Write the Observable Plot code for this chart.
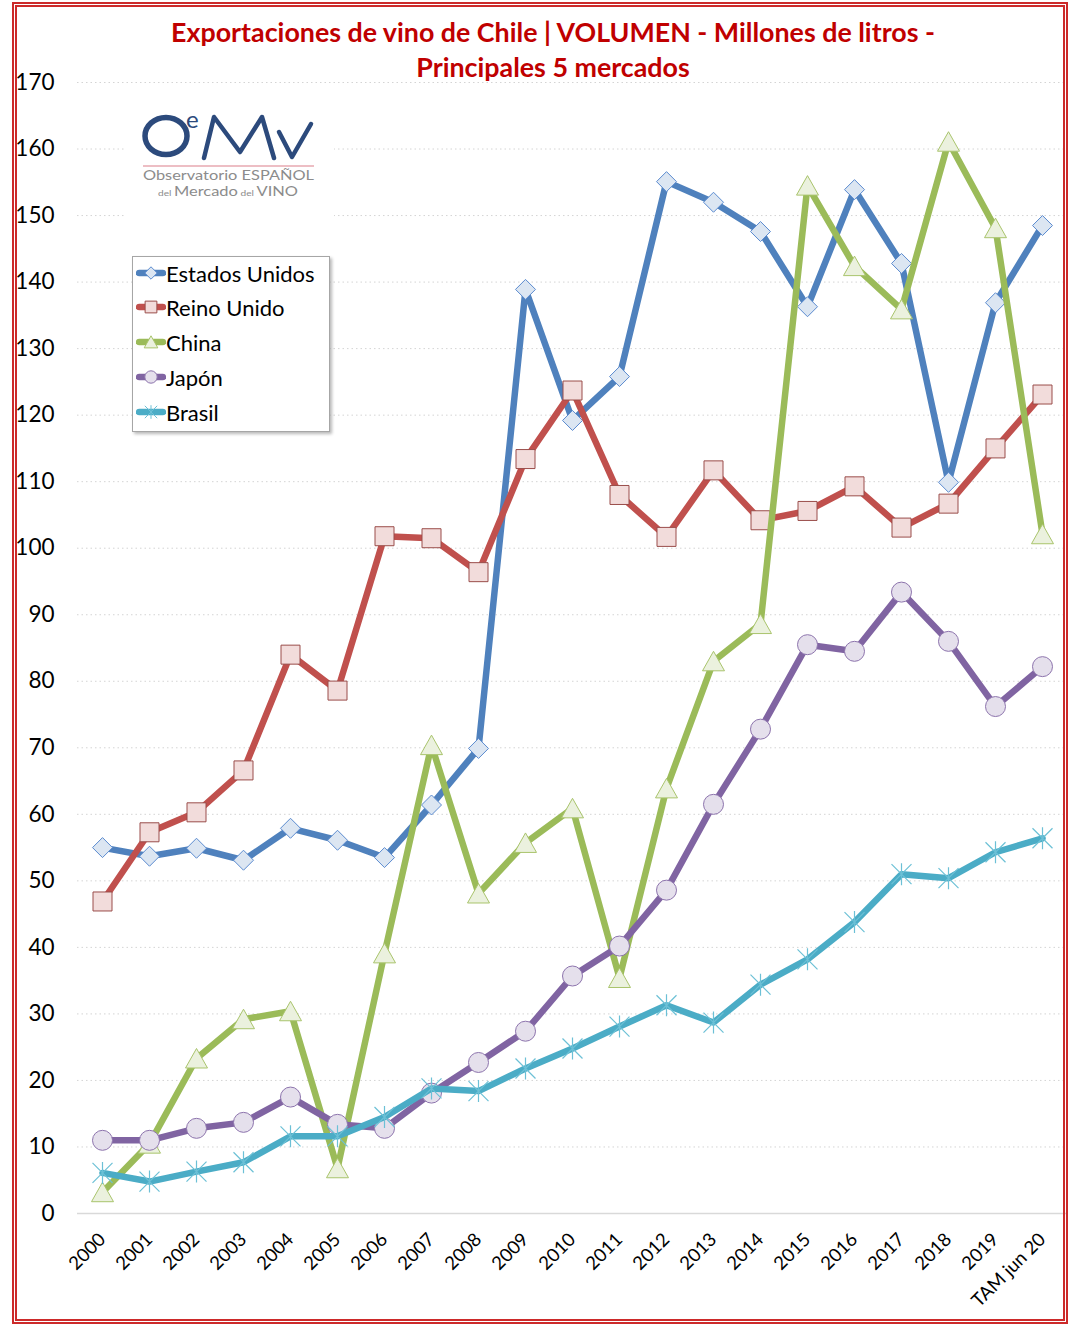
<!DOCTYPE html>
<html>
<head>
<meta charset="utf-8">
<script src="https://cdn.jsdelivr.net/npm/d3@7"></script>
<script src="https://cdn.jsdelivr.net/npm/@observablehq/plot@0.6"></script>
<style>
  html, body { margin: 0; padding: 0; background: #fff; }
  #wrap { position: relative; width: 1075px; height: 1324px; overflow: hidden; font-family: Lato, "Open Sans", sans-serif; background: #fff; }
  #chart { position: absolute; left: 0; top: 0; }
  #title { position: absolute; left: 0; top: 15px; width: 1106px; text-align: center; color: #c00000; font-weight: bold; font-size: 26.8px; line-height: 35px; }
  #frame { position: absolute; left: 12px; top: 2px; width: 1056px; height: 1322px; box-sizing: border-box; border: 5px double #cc2a2a; pointer-events: none; }
  #legend { position: absolute; left: 132px; top: 256px; width: 198px; height: 176px; box-sizing: border-box; background: #fff; border: 1px solid #a6a6a6; box-shadow: 2px 2px 3px rgba(0,0,0,0.28); }
  .lrow { position: absolute; left: 0; height: 30px; display: flex; align-items: center; font-size: 22px; color: #000; white-space: nowrap; }
  .lrow svg { margin-left: 3px; margin-right: 0px; }
  #logo { position: absolute; left: 0; top: 0; }
</style>
</head>
<body>
<div id="wrap">
  <div id="chart"></div>
  <svg id="logo" width="1075" height="240"></svg>
  <div id="legend"></div>
  <div id="title">Exportaciones de vino de Chile | VOLUMEN - Millones de litros -<br>Principales 5 mercados</div>
  <div id="frame"></div>
</div>
<script>
// ---- Data ----
const years = ["2000","2001","2002","2003","2004","2005","2006","2007","2008","2009","2010",
               "2011","2012","2013","2014","2015","2016","2017","2018","2019","TAM jun 20"];
const estadosUnidos = [55.0, 53.7, 54.9, 53.1, 57.9, 56.1, 53.5, 61.4, 69.9, 138.9, 119.2,
                       125.8, 155.1, 152.0, 147.6, 136.3, 153.9, 142.8, 109.9, 136.9, 148.5];
const reinoUnido    = [46.9, 57.3, 60.3, 66.6, 84.0, 78.6, 101.8, 101.5, 96.4, 113.4, 123.7,
                       108.0, 101.7, 111.7, 104.2, 105.6, 109.3, 103.1, 106.7, 115.0, 123.1];
const china         = [3.2, 10.5, 23.3, 29.2, 30.4, 6.8, 39.1, 70.4, 48.1, 55.7, 60.9,
                       35.4, 63.9, 83.0, 88.6, 154.5, 142.4, 135.9, 161.1, 148.1, 102.1];
const japon         = [11.0, 11.0, 12.8, 13.7, 17.5, 13.4, 12.8, 18.1, 22.7, 27.4, 35.7,
                       40.2, 48.6, 61.5, 72.8, 85.5, 84.5, 93.4, 86.0, 76.2, 82.2];
const brasil        = [6.1, 4.8, 6.3, 7.7, 11.6, 11.6, 14.5, 18.8, 18.4, 21.8, 24.8,
                       28.1, 31.3, 28.7, 34.4, 38.2, 43.8, 51.0, 50.4, 54.3, 56.4];
const seriesNames = ["Estados Unidos", "Reino Unido", "China", "Japón", "Brasil"];
const yTicks = [0, 10, 20, 30, 40, 50, 60, 70, 80, 90, 100, 110, 120, 130, 140, 150, 160, 170];

// ---- Marker shapes (Excel-like) ----
function makeSym(kind, s) {
  return {draw(ctx) {
    if (kind === "diamond") { ctx.moveTo(0,-10*s); ctx.lineTo(10*s,0); ctx.lineTo(0,10*s); ctx.lineTo(-10*s,0); ctx.closePath(); }
    else if (kind === "square") { ctx.moveTo(-9.5*s,-9.5*s); ctx.lineTo(9.5*s,-9.5*s); ctx.lineTo(9.5*s,9.5*s); ctx.lineTo(-9.5*s,9.5*s); ctx.closePath(); }
    else if (kind === "triangle") { ctx.moveTo(0,-10*s); ctx.lineTo(11*s,9.5*s); ctx.lineTo(-11*s,9.5*s); ctx.closePath(); }
    else if (kind === "circle") { ctx.moveTo(10*s,0); ctx.arc(0,0,10*s,0,2*Math.PI); ctx.closePath(); }
    else if (kind === "star") { ctx.moveTo(0,-11*s); ctx.lineTo(0,11*s); ctx.moveTo(-10*s,-10*s); ctx.lineTo(10*s,10*s); ctx.moveTo(10*s,-10*s); ctx.lineTo(-10*s,10*s); }
  }};
}
const styles = [
  {line: "#4f81bd", fill: "#dce6f2", stroke: "#5b8bd0", kind: "diamond"},
  {line: "#c0504d", fill: "#f2dcdb", stroke: "#9a4d4a", kind: "square"},
  {line: "#9bbb59", fill: "#ebf1de", stroke: "#a9c46c", kind: "triangle"},
  {line: "#8064a2", fill: "#e5e0ec", stroke: "#8d74ad", kind: "circle"},
  {line: "#4bacc6", fill: "none",    stroke: "#6cc0d6", kind: "star"}
];
const valuesList = [estadosUnidos, reinoUnido, china, japon, brasil];
const tables = seriesNames.map((name, k) => valuesList[k].map((v, i) => ({serie: name, year: years[i], value: v})));

// ---- Chart ----
const marks = [
  Plot.gridY(yTicks.filter(d => d > 0), {stroke: "#d4d4d4", strokeOpacity: 1, strokeWidth: 1, strokeDasharray: "1.5,3"}),
  Plot.ruleY([0], {stroke: "#d9d9d9", strokeWidth: 1.5}),
  Plot.axisY(yTicks, {tickSize: 0, tickPadding: 23, fontSize: 22.5, label: null}),
  Plot.axisX({tickRotate: -45, tickSize: 0, tickPadding: 23, fontSize: 18.5, label: null})
];
tables.forEach((t, k) => {
  const st = styles[k];
  marks.push(Plot.line(t, {x: "year", y: "value", stroke: st.line, strokeWidth: 6.5, strokeLinejoin: "round", strokeLinecap: "round"}));
  marks.push(Plot.dot(t, {x: "year", y: "value", r: 10, symbol: makeSym(st.kind, 1), fill: st.fill, stroke: st.stroke, strokeWidth: st.kind === "star" ? 1.2 : 1}));
});

const chart = Plot.plot({
  width: 1075,
  height: 1324,
  marginTop: 82,
  marginBottom: 111,
  marginLeft: 77,
  marginRight: 9,
  style: {fontFamily: "Lato, 'Open Sans', sans-serif", color: "#000", background: "transparent"},
  x: {type: "point", domain: years, padding: 0.5, axis: null},
  y: {domain: [0, 170], axis: null},
  marks
});
document.getElementById("chart").appendChild(chart);

// ---- Legend ----
const legend = d3.select("#legend");
const rowTops = [1, 35, 70, 105, 140];
seriesNames.forEach((name, k) => {
  const st = styles[k];
  const row = legend.append("div").attr("class", "lrow").style("top", rowTops[k] + "px");
  const svg = row.append("svg").attr("width", 30).attr("height", 20);
  svg.append("line").attr("x1", 3).attr("x2", 27).attr("y1", 10).attr("y2", 10)
     .attr("stroke", st.line).attr("stroke-width", 6.5).attr("stroke-linecap", "round");
  const p = d3.path();
  makeSym(st.kind, 0.62).draw(p);
  svg.append("path").attr("d", p.toString()).attr("transform", "translate(15,10)")
     .attr("fill", st.fill).attr("stroke", st.stroke).attr("stroke-width", 1);
  row.append("span").text(name);
});

// ---- Logo ----
const logo = d3.select("#logo");
logo.append("rect").attr("x", 126).attr("y", 96).attr("width", 208).attr("height", 126).attr("fill", "#fff");
const navy = "#2c4a7c";
logo.append("ellipse").attr("cx", 166).attr("cy", 136).attr("rx", 21).attr("ry", 18.5)
    .attr("fill", "none").attr("stroke", navy).attr("stroke-width", 5.5);
logo.append("text").attr("x", 186).attr("y", 128).attr("font-size", 24).attr("font-family", "Lato")
    .attr("fill", navy).text("e");
logo.append("path").attr("d", "M204,158 L214,117 L240,152 L262,117 L274,158")
    .attr("fill", "none").attr("stroke", navy).attr("stroke-width", 4.5).attr("stroke-linejoin", "round").attr("stroke-linecap", "round");
logo.append("path").attr("d", "M279,132 L292,157 L311,124")
    .attr("fill", "none").attr("stroke", navy).attr("stroke-width", 4.5).attr("stroke-linejoin", "round").attr("stroke-linecap", "round");
logo.append("line").attr("x1", 143).attr("x2", 314).attr("y1", 166).attr("y2", 166)
    .attr("stroke", "#e7a9b0").attr("stroke-width", 1.5);
logo.append("text").attr("x", 143).attr("y", 180).attr("font-size", 13.5).attr("font-family", "Lato")
    .attr("fill", "#8c8c8c").attr("textLength", 171).attr("lengthAdjust", "spacingAndGlyphs").text("Observatorio ESPAÑOL");
const t2 = logo.append("text").attr("x", 158).attr("y", 196).attr("font-family", "Lato").attr("fill", "#8c8c8c")
    .attr("textLength", 140).attr("lengthAdjust", "spacingAndGlyphs");
t2.append("tspan").attr("font-size", 8).text("del ");
t2.append("tspan").attr("font-size", 13).text("Mercado");
t2.append("tspan").attr("font-size", 8).text(" del ");
t2.append("tspan").attr("font-size", 13).text("VINO");
</script>
</body>
</html>
